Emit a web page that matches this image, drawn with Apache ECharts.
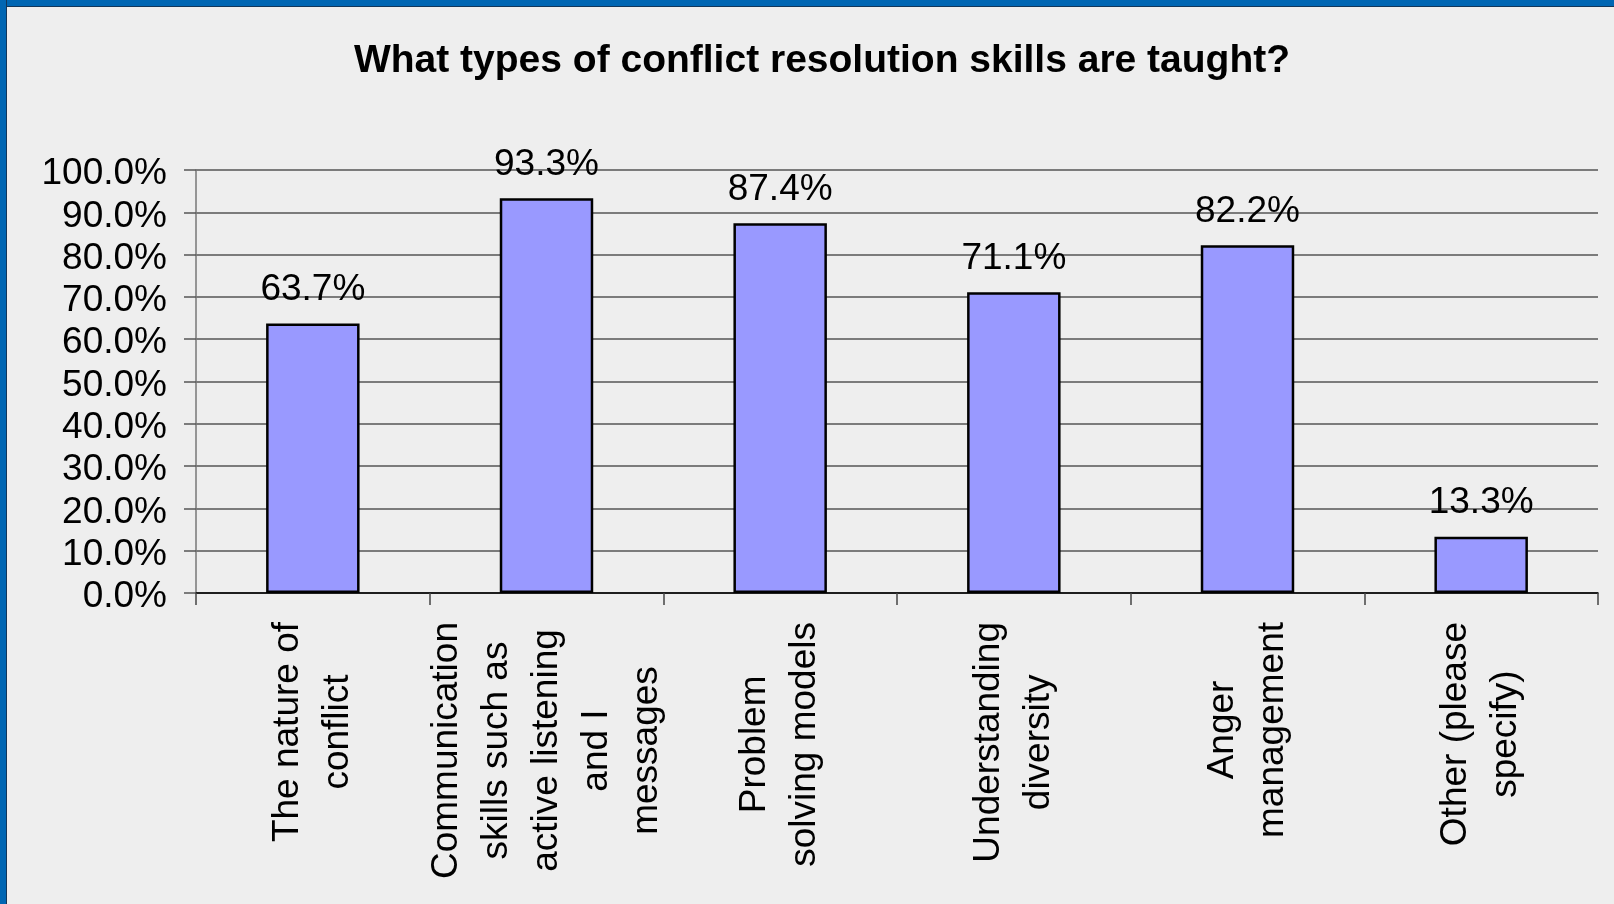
<!DOCTYPE html>
<html>
<head>
<meta charset="utf-8">
<title>Conflict resolution skills</title>
<script src="https://cdn.jsdelivr.net/npm/echarts@6/dist/echarts.min.js"></script>
<style>
  html, body { margin: 0; padding: 0; background: #eeeeee; }
  #wrap { position: relative; width: 1614px; height: 904px; overflow: hidden; }
  #chart { position: absolute; left: 0; top: 0; width: 1614px; height: 904px; }
  .edge-top { position: absolute; left: 0; top: 0; width: 1614px; height: 6px; background: #0066b3; border-bottom: 1px solid #12365a; }
  .edge-left { position: absolute; left: 0; top: 0; width: 6px; height: 904px; background: #0066b3; border-right: 1px solid #12365a; }
</style>
</head>
<body>
<div id="wrap">
  <div id="chart"></div>
  <div class="edge-top"></div>
  <div class="edge-left"></div>
</div>
<script>
// Survey results: share of programmes teaching each skill
const titleText = 'What types of conflict resolution skills are taught?';
const categories = [
  'The nature of\nconflict',
  'Communication\nskills such as\nactive listening\nand I\nmessages',
  'Problem\nsolving models',
  'Understanding\ndiversity',
  'Anger\nmanagement',
  'Other (please\nspecify)'
];
const percentages = [63.7, 93.3, 87.4, 71.1, 82.2, 13.3];
const yTicks = { min: 0, max: 100, interval: 10 };

const FONT = 'Liberation Sans';
const chart = echarts.init(document.getElementById('chart'), null, { renderer: 'canvas' });

chart.setOption({
  backgroundColor: '#eeeeee',
  animation: false,
  title: {
    text: titleText,
    left: 817,
    textAlign: 'center',
    top: 37,
    textStyle: { fontFamily: FONT, fontWeight: 'bold', fontSize: 39, color: '#000' }
  },
  grid: { left: 196, right: 16, top: 170, bottom: 311, containLabel: false },
  xAxis: {
    type: 'category',
    data: categories,
    axisLine: { show: true, lineStyle: { color: '#000', width: 1.5 } },
    axisTick: { show: true, length: 12, alignWithLabel: false, lineStyle: { color: '#444', width: 1.5 } },
    axisLabel: {
      interval: 0,
      rotate: 90,
      margin: 29,
      formatter: function (v) {
        return v.split('\n').map(function (s) { return '{c|' + s + '}'; }).join('\n');
      },
      rich: {
        c: { align: 'center', fontFamily: FONT, fontSize: 37, lineHeight: 50, color: '#000' }
      }
    },
    splitLine: { show: false }
  },
  yAxis: {
    type: 'value',
    min: yTicks.min,
    max: yTicks.max,
    interval: yTicks.interval,
    axisLine: { show: true, lineStyle: { color: '#777', width: 1.5 } },
    axisTick: { show: true, length: 12, lineStyle: { color: '#555', width: 1.5 } },
    axisLabel: {
      margin: 29,
      formatter: function (v) { return '{v|' + v.toFixed(1) + '%}'; },
      rich: {
        v: { fontFamily: FONT, fontSize: 37, color: '#000', padding: [8, 0, 0, 0] }
      }
    },
    splitLine: { show: true, lineStyle: { color: '#555', width: 1.5 } }
  },
  series: [{
    type: 'bar',
    data: percentages,
    barWidth: '40%',
    itemStyle: { color: '#9999ff', borderColor: '#000', borderWidth: 2.5 },
    label: {
      show: true,
      position: 'top',
      distance: 15,
      fontFamily: FONT,
      fontSize: 37,
      color: '#000',
      formatter: function (p) { return p.value.toFixed(1) + '%'; }
    }
  }]
});
</script>
</body>
</html>
